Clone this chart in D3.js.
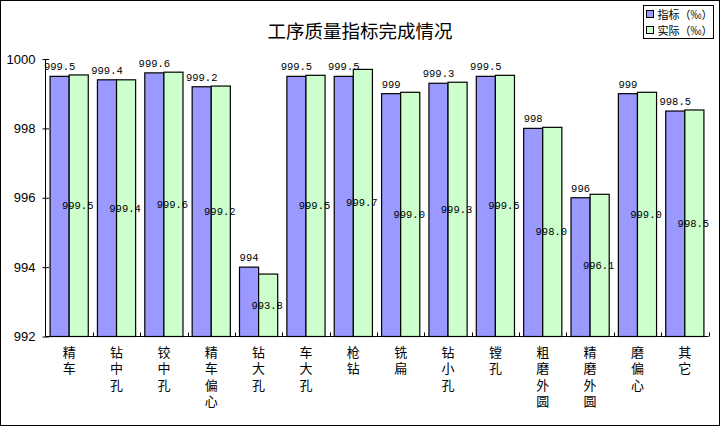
<!DOCTYPE html>
<html>
<head>
<meta charset="utf-8">
<script src="https://cdn.jsdelivr.net/npm/d3@7"></script>
<style>
  body { margin: 0; background: #fff; }
  svg { display: block; }
</style>
</head>
<body>
<svg width="721" height="427"></svg>
<script>
// data
const categories = ["精车", "钻中孔", "铰中孔", "精车偏心", "钻大孔", "车大孔", "枪钻",
  "铣扁", "钻小孔", "镗孔", "粗磨外圆", "精磨外圆", "磨偏心", "其它"];
const target = [999.5, 999.4, 999.6, 999.2, 994, 999.5, 999.5, 999, 999.3, 999.5, 998, 996, 999, 998.5];
const actual = [999.54, 999.4, 999.62, 999.22, 993.8, 999.53, 999.7, 999.04, 999.33, 999.53, 998.03, 996.1, 999.04, 998.53];
const seriesNames = ["指标（‰）", "实际（‰）"];
const yTicks = [992, 994, 996, 998, 1000];

const colors = ["#9999ff", "#ccffcc"];
const cjk = "'Noto Sans CJK SC', sans-serif";
const mono = "'Liberation Mono', 'DejaVu Sans Mono', monospace";

var svg = d3.select("svg");

// outer frame
svg.append("rect")
  .attr("x", 0.5).attr("y", 0.5)
  .attr("width", 719).attr("height", 425)
  .attr("fill", "#fff").attr("stroke", "#000");

// title
svg.append("text")
  .attr("x", 360).attr("y", 37.5)
  .attr("text-anchor", "middle")
  .style("font-family", cjk)
  .style("font-size", "18.5px")
  .text("工序质量指标完成情况");

const plotLeft = 45.5, plotRight = 708.5, plotTop = 59, plotBottom = 336.5;

var x0 = d3.scaleBand().domain(categories).range([plotLeft, plotRight]);
var x1 = d3.scaleBand().domain([0, 1]).range([0, x0.bandwidth()]).paddingOuter(0.24);
var y = d3.scaleLinear().domain([992, 1000]).range([plotBottom, plotTop]);

var rows = categories.map((c, i) => ({ cat: c, vals: [target[i], actual[i]] }));

// bars
var groups = svg.append("g").selectAll("g")
  .data(rows)
  .enter()
  .append("g")
  .attr("transform", d => `translate(${x0(d.cat)},0)`);

groups.selectAll("rect")
  .data(d => d.vals.map((v, s) => ({ v, s })))
  .enter()
  .append("rect")
  .attr("x", d => x1(d.s))
  .attr("y", d => y(d.v))
  .attr("width", x1.bandwidth())
  .attr("height", d => plotBottom - y(d.v))
  .attr("fill", d => colors[d.s])
  .attr("stroke", "#000")
  .attr("stroke-width", 1.2);

// labels for target series: above bar, general format
groups.append("text")
  .attr("x", d => x1(0) + x1.bandwidth() / 2)
  .attr("y", d => y(d.vals[0]) - 6)
  .attr("text-anchor", "middle")
  .style("font-family", mono)
  .style("font-size", "10.5px")
  .text(d => String(d.vals[0]));

// labels for actual series: centred inside bar, one decimal
groups.append("text")
  .attr("x", d => x1(1) + x1.bandwidth() / 2 - 1)
  .attr("y", d => (y(d.vals[1]) + plotBottom) / 2 + 3.5)
  .attr("text-anchor", "middle")
  .style("font-family", mono)
  .style("font-size", "10.5px")
  .text(d => d.vals[1].toFixed(1));

// y axis
var yAxis = svg.append("g")
  .attr("transform", `translate(${plotLeft},0)`)
  .call(d3.axisLeft(y).tickValues(yTicks).tickSize(3).tickFormat(d3.format("d")));
yAxis.select(".domain").attr("d", `M0,${plotTop}V${plotBottom}`).attr("stroke", "#000");
yAxis.selectAll(".tick line").attr("x1", 3.5).attr("x2", -3).attr("stroke", "#000");
yAxis.selectAll(".tick text")
  .attr("x", -10)
  .style("font-family", "'Liberation Sans', Arial, sans-serif")
  .style("font-size", "13px")
  .attr("fill", "#000");

// x axis line and inner ticks at category boundaries
var xg = svg.append("g");
xg.append("line")
  .attr("x1", plotLeft).attr("x2", plotRight)
  .attr("y1", plotBottom).attr("y2", plotBottom)
  .attr("stroke", "#000");
xg.selectAll("line.tk")
  .data(categories.slice(1).concat(["__end"]))
  .enter()
  .append("line")
  .attr("class", "tk")
  .attr("x1", d => Math.round(d === "__end" ? plotRight : x0(d)) + 0.5)
  .attr("x2", d => Math.round(d === "__end" ? plotRight : x0(d)) + 0.5)
  .attr("y1", plotBottom)
  .attr("y2", plotBottom - 4)
  .attr("stroke", "#000");

// vertical category labels, one character per line
var cl = xg.selectAll("text.cat")
  .data(categories)
  .enter()
  .append("text")
  .attr("class", "cat")
  .attr("text-anchor", "middle")
  .style("font-family", cjk)
  .style("font-size", "13px");
cl.selectAll("tspan")
  .data(d => Array.from(d).map((ch, i) => ({ ch, i, cat: d })))
  .enter()
  .append("tspan")
  .attr("x", d => x0(d.cat) + x0.bandwidth() / 2)
  .attr("y", d => 357 + d.i * 16.3)
  .text(d => d.ch);

// legend
var lg = svg.append("g");
lg.append("rect")
  .attr("x", 643.5).attr("y", 5.5)
  .attr("width", 70).attr("height", 33)
  .attr("fill", "#fff").attr("stroke", "#000");
var items = lg.selectAll("g")
  .data(seriesNames)
  .enter()
  .append("g")
  .attr("transform", (d, i) => `translate(646.5,${10.5 + i * 16})`);
items.append("rect")
  .attr("width", 7).attr("height", 7)
  .attr("fill", (d, i) => colors[i])
  .attr("stroke", "#000");
items.append("text")
  .attr("x", 11).attr("y", 8)
  .style("font-family", cjk)
  .style("font-size", "11px")
  .text(d => d);
</script>
</body>
</html>
